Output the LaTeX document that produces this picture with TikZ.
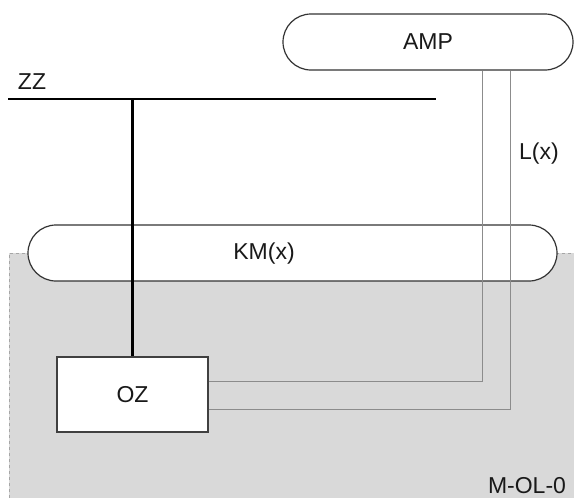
\documentclass[tikz,border=0pt]{standalone}
\usepackage{fontspec}
\setmainfont{Liberation Sans}
\begin{document}
\begin{tikzpicture}[x=1pt,y=-1pt,
  lbl/.style={font=\fontsize{23}{27}\selectfont, inner sep=0pt, text=black!90},
  pill/.style={draw=black!80, line width=1.2pt, fill=white, rounded corners=28pt, minimum height=56pt, inner sep=0pt},
  thin/.style={draw=black!45, line width=0.8pt},
  bus/.style={draw=black, line width=2.6pt},
  box/.style={draw=black!75, line width=1.3pt, fill=white, inner sep=0pt}]
\useasboundingbox (0,0) rectangle (574,498);
% region
\fill[black!15] (9,253) rectangle (574,498);
\draw[black!35, dashed, line width=0.8pt] (9,498) -- (9,253) -- (574,253);
% pills
\node[pill, minimum width=529pt] (KM) at (292.5,253) {};
\node[lbl] (KMt) at (264,254) {KM(x)};
\node[pill, minimum width=290pt, lbl] (AMP) at (428,42) {AMP};
% OZ
\node[box, minimum width=151pt, minimum height=75pt, lbl] (OZ) at (132.5,394.5) {OZ};
% bus
\coordinate (zzL) at (8,99);
\coordinate (zzR) at (436,99);
\coordinate (zzT) at (132.5,99);
\draw[bus] (zzL) -- (zzR);
\node[lbl] (ZZ) at (32,82) {ZZ};
\draw[bus, line width=2.2pt] (zzT) -- (OZ.north);
% thin lines
\draw[thin] ([yshift=13.5pt]OZ.east) -| (AMP.south -| 482,0);
\draw[thin] ([yshift=-14.5pt]OZ.east) -| (AMP.south -| 510,0);
\node[lbl] (L) at (539,154) {L(x)};
\node[lbl, anchor=base] (M) at (527,493) {M-OL-0};
\end{tikzpicture}
\end{document}
